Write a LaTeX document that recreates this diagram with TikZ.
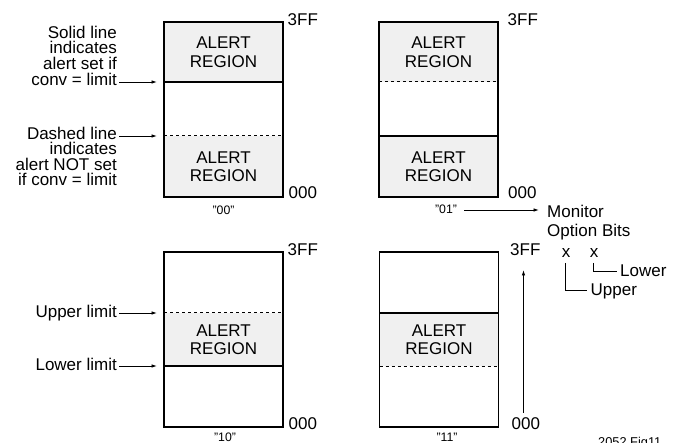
\documentclass[tikz,border=0pt]{standalone}
\usepackage{fontspec}
\setmainfont{Liberation Sans}
\usetikzlibrary{arrows.meta}
\begin{document}
\begin{tikzpicture}[x=1pt,y=-1pt,
  lbl/.style={font=\fontsize{17}{19}\selectfont, inner sep=0pt},
  boxtxt/.style={font=\fontsize{17}{18.5}\selectfont, inner sep=0pt, align=center},
  small/.style={font=\fontsize{12.3}{14}\selectfont, inner sep=0pt},
  memb/.style={draw=black, line width=1.1pt, inner sep=0pt, minimum width=119pt, minimum height=175pt},
  alertfill/.style={fill=black!6},
  solidline/.style={line width=1.1pt},
  dashline/.style={line width=1pt, dash pattern=on 3pt off 3pt},
  arr/.style={line width=0.9pt, -{Latex[length=5.5pt,width=3.6pt]}},
  tree/.style={line width=0.9pt}]
\useasboundingbox (0,0) rectangle (682,443);

% ---------- fills ----------
\fill[alertfill] (164,22) rectangle (283,82);
\fill[alertfill] (164,136) rectangle (283,197);
\fill[alertfill] (379,22) rectangle (498,82);
\fill[alertfill] (379,136) rectangle (498,197);
\fill[alertfill] (164,313) rectangle (283,366);
\fill[alertfill] (379.5,313) rectangle (498.5,366);

% ---------- boxes ----------
\node[memb] (b1) at (223.5,109.5) {};
\node[memb] (b2) at (438.5,109.5) {};
\node[memb] (b3) at (223.5,339.5) {};
\node[memb] (b4) at (439,339.5) {};

% ---------- dividers ----------
\draw[solidline] (164,82) -- (283,82);
\draw[dashline] (164,136) -- (283,136);
\draw[dashline] (379,82) -- (498,82);
\draw[solidline] (379,136) -- (498,136);
\draw[dashline] (164,313) -- (283,313);
\draw[solidline] (164,366) -- (283,366);
\draw[solidline] (379.5,313) -- (498.5,313);
\draw[dashline] (379.5,366) -- (498.5,366);

% ---------- alert texts ----------
\node[boxtxt] (t1) at (223.5,52) {ALERT\\REGION};
\node[boxtxt] (t2) at (223.5,166.5) {ALERT\\REGION};
\node[boxtxt] (t3) at (438.5,52) {ALERT\\REGION};
\node[boxtxt] (t4) at (438.5,166.5) {ALERT\\REGION};
\node[boxtxt] (t5) at (223.5,339.5) {ALERT\\REGION};
\node[boxtxt] (t6) at (439,339.5) {ALERT\\REGION};

% ---------- range labels ----------
\node[lbl, anchor=base west] (h1) at (287.5,26) {3FF};
\node[lbl, anchor=base west] (z1) at (288.5,199) {000};
\node[lbl, anchor=base west] (h2) at (507.5,26) {3FF};
\node[lbl, anchor=base west] (z2) at (508,199) {000};
\node[lbl, anchor=base west] (h3) at (287.5,256) {3FF};
\node[lbl, anchor=base west] (z3) at (288.5,429.5) {000};
\node[lbl, anchor=base west] (h4) at (510,256) {3FF};
\node[lbl, anchor=base west] (z4) at (511.5,429.5) {000};

% ---------- option codes ----------
\node[small, anchor=base] (c1) at (223.5,215) {"00"};
\node[small, anchor=base] (c2) at (446,214) {"01"};
\node[small, anchor=base] (c3) at (225,441.5) {"10"};
\node[small, anchor=base] (c4) at (447,441.5) {"11"};

% ---------- left labels box 1 ----------
\node[lbl, anchor=base east] (s1) at (117,38.5) {Solid line};
\node[lbl, anchor=base east] (s2) at (117,54) {indicates};
\node[lbl, anchor=base east] (s3) at (117,69.5) {alert set if};
\node[lbl, anchor=base east] (s4) at (117,85.5) {conv = limit};
\coordinate (s4e) at (157,82);
\draw[arr, shorten <=2pt] (s4.east |- s4e) -- (s4e);

\node[lbl, anchor=base east] (d1) at (117,139.5) {Dashed line};
\node[lbl, anchor=base east] (d2) at (117,155) {indicates};
\node[lbl, anchor=base east] (d3) at (117,170.5) {alert NOT set};
\node[lbl, anchor=base east] (d4) at (117,186) {if conv = limit};
\coordinate (d1e) at (157,136);
\draw[arr, shorten <=2pt] (d1.east |- d1e) -- (d1e);

% ---------- left labels box 3 ----------
\node[lbl, anchor=base east] (u1) at (117,317) {Upper limit};
\coordinate (u1e) at (157,313);
\draw[arr, shorten <=2pt] (u1.east |- u1e) -- (u1e);
\node[lbl, anchor=base east] (w1) at (117,370) {Lower limit};
\coordinate (w1e) at (157,366);
\draw[arr, shorten <=2pt] (w1.east |- w1e) -- (w1e);

% ---------- monitor option bits ----------
\node[lbl, anchor=base west] (mon) at (547,218) {Monitor};
\node[lbl, anchor=base west] (opt) at (547,237) {Option Bits};
\coordinate (c2e) at (539,210);
\draw[arr] (c2.east |- c2e) ++(7,0) -- (c2e);

\node[lbl, anchor=base] (x1) at (566,258) {x};
\node[lbl, anchor=base] (x2) at (594,258) {x};
\node[lbl, anchor=base west] (upb) at (590.5,295) {Upper};
\node[lbl, anchor=base west] (lob) at (620,276.5) {Lower};
\coordinate (x1s) at (565.8,263);
\coordinate (x2s) at (593.5,263);
\draw[tree] (x1s) |- ([xshift=-4pt]upb.west |- 0,290);
\draw[tree] (x2s) |- ([xshift=-3pt]lob.west |- 0,271.5);

% ---------- vertical range arrow ----------
\coordinate (va0) at (523.5,412.5);
\coordinate (va1) at (523.5,270);
\draw[arr] (va0) -- (va1);

% ---------- figure label ----------
\node[font=\fontsize{12.8}{14}\selectfont, inner sep=0pt, anchor=base west] (fig) at (598,446) {2052 Fig11};
\end{tikzpicture}
\end{document}
